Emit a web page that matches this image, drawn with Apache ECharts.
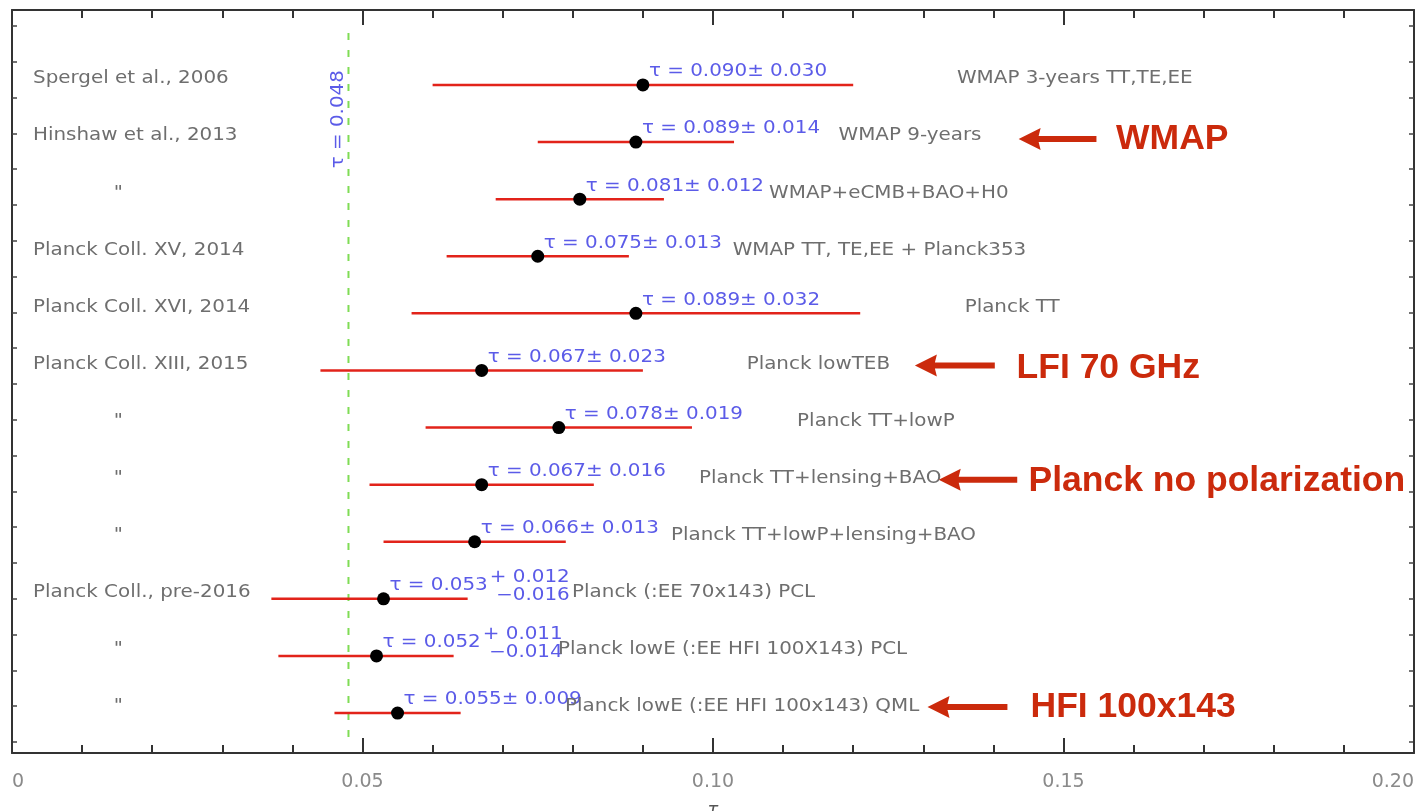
<!DOCTYPE html>
<html><head><meta charset="utf-8">
<script src="https://cdn.jsdelivr.net/npm/echarts@6/dist/echarts.min.js"></script>
<style>html,body{margin:0;padding:0;background:#fff}#c{width:1417px;height:811px}</style>
</head><body><div id="c"></div>
<script>
// ---------------- data ----------------
const sources = ['Spergel et al., 2006','Hinshaw et al., 2013','"','Planck Coll. XV, 2014','Planck Coll. XVI, 2014','Planck Coll. XIII, 2015','"','"','"','Planck Coll., pre-2016','"','"'];
const datasets = ['WMAP 3-years TT,TE,EE','WMAP 9-years','WMAP+eCMB+BAO+H0','WMAP TT, TE,EE + Planck353','Planck TT','Planck lowTEB','Planck TT+lowP','Planck TT+lensing+BAO','Planck TT+lowP+lensing+BAO','Planck (:EE 70x143) PCL','Planck lowE (:EE HFI 100X143) PCL','Planck lowE (:EE HFI 100x143) QML'];
const tauValues = [0.090,0.089,0.081,0.075,0.089,0.067,0.078,0.067,0.066,0.053,0.052,0.055];
const errPlus   = [0.030,0.014,0.012,0.013,0.032,0.023,0.019,0.016,0.013,0.012,0.011,0.009];
const errMinus  = [0.030,0.014,0.012,0.013,0.032,0.023,0.019,0.016,0.013,0.016,0.014,0.009];
const tauRef = 0.048;
const xTickValues = [0,0.05,0.10,0.15,0.20];
const xTickLabels = ['0','0.05','0.10','0.15','0.20'];
const annotations = ['WMAP','LFI 70 GHz','Planck no polarization','HFI 100x143'];
const annotationRows = [1,5,7,11];

// ---------------- layout (not data) ----------------
const descX = [0.1348,0.1179,0.1080,0.1028,0.1359,0.1048,0.1120,0.0980,0.0940,0.0799,0.0779,0.0789];
const srcX = 0.003, dittoX = 0.0145;
const arrowTipX  = [0.1436,0.1288,0.1322,0.1306];
const arrowTailX = [0.1547,0.1402,0.1434,0.1420];
const annotTextX = [0.1575,0.1433,0.1450,0.1453];
const arrowDy = [-3,-5,-5,-6];
const textDy  = [-3,-2,-3,-6];

const RED = '#e2231a', BLUE = '#5b5be8', GREY = '#6e6e6e', ARED = '#cb2a0c';
const FONT = '17px "DejaVu Sans"';
const SX = 1.17;
const mctx = document.createElement('canvas').getContext('2d');
function tw(s){ mctx.font = FONT; return mctx.measureText(s).width * SX; }
function txt(x,y,s,fill,align){
  return {type:'text', x:x, y:y, scaleX:SX,
    style:{text:s, fill:fill, font:FONT, align:align||'left', verticalAlign:'middle'}};
}

const yTicks = [];
for (let k=0;k<21;k++) yTicks.push(-1.033 + 0.627*k);

const chart = echarts.init(document.getElementById('c'));

function renderRow(params, api){
  const i = api.value(1);
  const c = tauValues[i], lo = c - errMinus[i], hi = c + errPlus[i];
  const p = api.coord([c,i]), pl = api.coord([lo,i]), ph = api.coord([hi,i]);
  const ch = [];
  ch.push({type:'line', shape:{x1:pl[0],y1:pl[1],x2:ph[0],y2:ph[1]}, style:{stroke:RED,lineWidth:2.5}});
  ch.push({type:'circle', shape:{cx:p[0],cy:p[1],r:6.5}, style:{fill:'#000'}});
  const sym = errPlus[i] === errMinus[i];
  const main = sym ? ('τ = ' + c.toFixed(3) + '± ' + errPlus[i].toFixed(3)) : ('τ = ' + c.toFixed(3));
  const lx = p[0] + 6;
  ch.push(txt(lx, p[1]-13, main, BLUE));
  if (!sym){
    const up = '+ ' + errPlus[i].toFixed(3), dn = '−' + errMinus[i].toFixed(3);
    const xe = lx + tw(main) + 2 + tw(up);
    ch.push(txt(xe, p[1]-21, up, BLUE, 'right'));
    ch.push(txt(xe, p[1]-3, dn, BLUE, 'right'));
  }
  const d = api.coord([descX[i], i]);
  ch.push(txt(d[0], p[1]-6, datasets[i], GREY));
  const isDitto = sources[i] === '"';
  const s = api.coord([isDitto ? dittoX : srcX, i]);
  ch.push(txt(s[0], p[1]-6, sources[i], GREY));
  return {type:'group', children:ch};
}

function renderRef(params, api){
  const v = api.value(0);
  const top = api.coord([v, -0.91]), bot = api.coord([v, 11.56]);
  const lab = api.coord([v, 0.6]);
  return {type:'group', children:[
    {type:'line', shape:{x1:top[0],y1:top[1],x2:bot[0],y2:bot[1]},
     style:{stroke:'#7fdc55', lineWidth:2, lineDash:[7,10]}},
    {type:'text', x:lab[0]-10, y:lab[1], rotation:Math.PI/2, scaleX:SX,
     style:{text:'τ = ' + v.toFixed(3), fill:BLUE, font:FONT, align:'center', verticalAlign:'middle'}}
  ]};
}

function renderAnnot(params, api){
  const k = params.dataIndex;
  const r = api.value(1);
  const tip = api.coord([arrowTipX[k], r]), tail = api.coord([arrowTailX[k], r]);
  const ty = tip[1] + arrowDy[k];
  const tx = tip[0];
  const pts = [[tx,ty],[tx+22,ty-11],[tx+20,ty-3],[tail[0],ty-3],[tail[0],ty+3],[tx+20,ty+3],[tx+22,ty+11]];
  const tp = api.coord([annotTextX[k], r]);
  return {type:'group', children:[
    {type:'polygon', shape:{points:pts}, style:{fill:ARED}},
    {type:'text', x:tp[0], y:tp[1]+textDy[k],
     style:{text:annotations[k], fill:ARED, font:'bold 35.5px "Liberation Sans", Arial', align:'left', verticalAlign:'middle'}}
  ]};
}

const axisLineStyle = {show:true, onZero:false, lineStyle:{color:'#333', width:2}};
const xAxisCommon = {type:'value', min:0, max:0.2, interval:0.05,
  axisLine:axisLineStyle, splitLine:{show:false},
  axisTick:{show:true, inside:true, length:15, lineStyle:{color:'#333', width:2}},
  minorTick:{show:true, splitNumber:5, length:8, lineStyle:{color:'#333', width:2}}};
const yAxisCommon = {type:'value', min:-1.313, max:11.70, inverse:true,
  axisLine:axisLineStyle, splitLine:{show:false}, axisLabel:{show:false},
  axisTick:{show:true, inside:true, length:5, customValues:yTicks, lineStyle:{color:'#444', width:1.5}}};

chart.setOption({
  animation:false,
  backgroundColor:'#fff',
  grid:{left:12, right:3, top:10, bottom:58, containLabel:false, outerBoundsMode:'none'},
  xAxis:[
    Object.assign({}, xAxisCommon, {position:'bottom', name:'τ', nameLocation:'middle', nameGap:48,
      nameTextStyle:{color:'#555', fontSize:18, fontFamily:'DejaVu Sans', fontStyle:'italic'},
      axisLabel:{show:true, margin:20, color:'#8a8a8a', fontSize:19, fontFamily:'DejaVu Sans',
        alignMinLabel:'left', alignMaxLabel:'right',
        formatter:function(v){ const j = xTickValues.findIndex(t=>Math.abs(t-v)<1e-9); return j>=0?xTickLabels[j]:''; }}}),
    Object.assign({}, xAxisCommon, {position:'top', axisLabel:{show:false}})
  ],
  yAxis:[
    Object.assign({}, yAxisCommon, {position:'left'}),
    Object.assign({}, yAxisCommon, {position:'right'})
  ],
  series:[
    {type:'custom', name:'ref', renderItem:renderRef, data:[[tauRef,0]], z:1, silent:true},
    {type:'custom', name:'rows', renderItem:renderRow, data:tauValues.map((v,i)=>[v,i]), z:3, silent:true},
    {type:'custom', name:'annot', renderItem:renderAnnot, data:annotationRows.map((r,k)=>[arrowTipX[k], r]), z:4, silent:true}
  ]
});
</script></body></html>
